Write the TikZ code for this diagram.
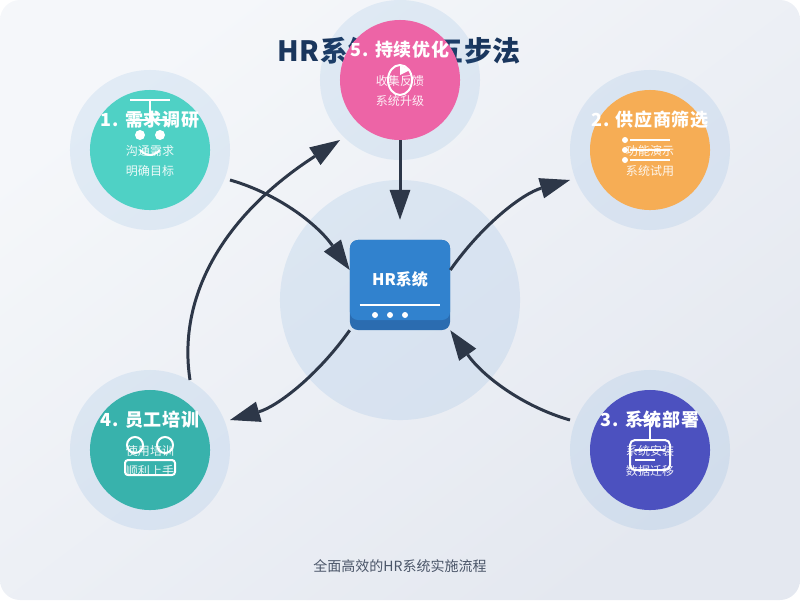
\documentclass[tikz,border=0pt]{standalone}
\usepackage{fontspec}
\setmainfont{Noto Sans CJK SC}
\newfontfamily\spacedfont[LetterSpace=2.8]{Noto Sans CJK SC}
\newfontfamily\stepfont[LetterSpace=4]{Noto Sans CJK SC}
\usetikzlibrary{arrows.meta}

\definecolor{bg_light}{HTML}{F5F7FA}
\definecolor{bg_dark}{HTML}{E4E8F0}
\definecolor{halo_blue}{HTML}{3182CE}
\definecolor{box_dark}{HTML}{2B6CB0}
\definecolor{title_blue}{HTML}{1A365D}
\definecolor{arrow_gray}{HTML}{2D3748}
\definecolor{foot_gray}{HTML}{4A5568}
\definecolor{research_col}{HTML}{4FD1C5}
\definecolor{vendor_col}{HTML}{F6AD55}
\definecolor{deploy_col}{HTML}{4C51BF}
\definecolor{training_col}{HTML}{38B2AC}
\definecolor{improve_col}{HTML}{ED64A6}

\begin{document}
\begin{tikzpicture}[
x=0.025cm, y=-0.025cm,
halo/.style={circle, fill=halo_blue, fill opacity=0.1, inner sep=0pt, minimum size=4cm},
core/.style={circle, inner sep=0pt, minimum size=3cm},
step_title/.style={text=white, anchor=base, font=\fontsize{12.8}{15}\stepfont\bfseries},
sub_text/.style={text=white, text opacity=0.9, anchor=base, font=\fontsize{8.54}{10}\selectfont},
icon_line/.style={draw=white, line width=1.42pt},
icon_dot/.style={circle, fill=white, inner sep=0pt},
out_arrow/.style={-{Triangle[length=21.3pt, width=14.9pt, line width=0pt]}, draw=arrow_gray, line width=2.13pt}
]

% background and title
\shade[rounded corners=0.5cm, top color=bg_light, bottom color=bg_dark, shading angle=37] (0,0) rectangle (800,600);
\useasboundingbox (0,0) rectangle (800,600);
\node[anchor=base, text=title_blue, font=\fontsize{19.9}{24}\spacedfont\bfseries](title) at (399,61) {HR系统实施五步法};
\node[anchor=base, text=foot_gray, font=\fontsize{9.96}{12}\selectfont](footer) at (400,571) {全面高效的HR系统实施流程};

% centre
\node[circle, fill=halo_blue, fill opacity=0.1, inner sep=0pt, minimum size=6cm](hub_halo) at (400,300) {};
\node[rectangle, rounded corners=0.2cm, fill=box_dark, inner sep=0pt, minimum width=2.5cm, minimum height=2.25cm](hr_box) at (400,285) {};
\node[rectangle, rounded corners=0.2cm, fill=halo_blue, inner sep=0pt, minimum width=2.5cm, minimum height=2cm](hr_top) at (400,280) {};
\node[anchor=base, text=white, font=\fontsize{11.4}{14}\selectfont\bfseries](hr_label) at (400,285.5) {HR系统};
\draw[icon_line](hr_box.west) ++(10,20) -- ++(80,0);
\foreach \dotx in {375,390,405}
  \node[icon_dot, minimum size=0.15cm] at (\dotx,315) {};

% step circles
\node[halo](research_halo) at (150,150) {};
\node[core, fill=research_col](research) at (150,150) {};
\node[halo](vendor_halo) at (650,150) {};
\node[core, fill=vendor_col](vendor) at (650,150) {};
\node[halo](deploy_halo) at (650,450) {};
\node[core, fill=deploy_col](deploy) at (650,450) {};
\node[halo](training_halo) at (150,450) {};
\node[core, fill=training_col](training) at (150,450) {};
\node[halo](improve_halo) at (400,80) {};
\node[core, fill=improve_col](improve) at (400,80) {};

% icons
\draw[icon_line] (130,100) -- (170,100) (150,100) -- (150,120) (130,120) -- (170,120);
\node[icon_dot, minimum size=0.25cm] at (140,135) {};
\node[icon_dot, minimum size=0.25cm] at (160,135) {};
\draw[icon_line] (140,150) .. controls (146.7,156.7) and (153.3,156.7) .. (160,150);

\foreach \liney in {140,150,160} {
  \node[icon_dot, minimum size=0.15cm] at (625,\liney) {};
  \draw[icon_line] (630,\liney) -- (670,\liney);
}

\draw[icon_line, rounded corners=0.125cm] (630,440) rectangle (670,470);
\draw[icon_line] (640,420) -- (660,420) (650,420) -- (650,440) (635,450) -- (665,450) (635,460) -- (655,460);

\draw[icon_line] (135,445) circle [radius=8];
\draw[icon_line] (165,445) circle [radius=8];
\draw[icon_line, rounded corners=0.075cm] (125,460) rectangle (175,475);

\draw[icon_line] (400,80) ellipse [x radius=12, y radius=15];
\fill[white] (400,65) -- (410,70) -- (400,75) -- cycle;

% step texts
\node[step_title](research_title) at (150,126) {1. 需求调研};
\node[sub_text] at (150,155.5) {沟通需求};
\node[sub_text] at (150,175.5) {明确目标};

\node[step_title](vendor_title) at (650,126) {2. 供应商筛选};
\node[sub_text] at (650,155.5) {功能演示};
\node[sub_text] at (650,175.5) {系统试用};

\node[step_title](deploy_title) at (650,426) {3. 系统部署};
\node[sub_text] at (650,455.5) {系统安装};
\node[sub_text] at (650,475.5) {数据迁移};

\node[step_title](training_title) at (150,426) {4. 员工培训};
\node[sub_text] at (150,455.5) {使用培训};
\node[sub_text] at (150,475.5) {顺利上手};

\node[step_title](improve_title) at (400,56) {5. 持续优化};
\node[sub_text] at (400,85.5) {收集反馈};
\node[sub_text] at (400,105.5) {系统升级};

% arrows
\draw[out_arrow] ([shift={(80,30)}]research_halo.center) .. controls (276.7,193.3) and (316.7,223.3) .. ([shift={(0,-15)}]hr_box.west);
\draw[out_arrow] ([shift={(0,-15)}]hr_box.east) .. controls (483.3,223.3) and (523.3,193.3) .. ([shift={(-80,30)}]vendor_halo.center);
\draw[out_arrow] ([shift={(-80,-30)}]deploy_halo.center) .. controls (523.3,406.7) and (483.3,376.7) .. (hr_box.south east);
\draw[out_arrow] (hr_box.south west) .. controls (316.7,376.7) and (276.7,406.7) .. ([shift={(80,-30)}]training_halo.center);
\draw[out_arrow] ([shift={(40,-70)}]training_halo.center) .. controls (176.7,293.3) and (226.7,213.3) .. ([shift={(-60,60)}]improve_halo.center);
\draw[out_arrow] (improve.south) -- ([shift={(0,-20)}]hr_box.north);

\end{tikzpicture}
\end{document}
